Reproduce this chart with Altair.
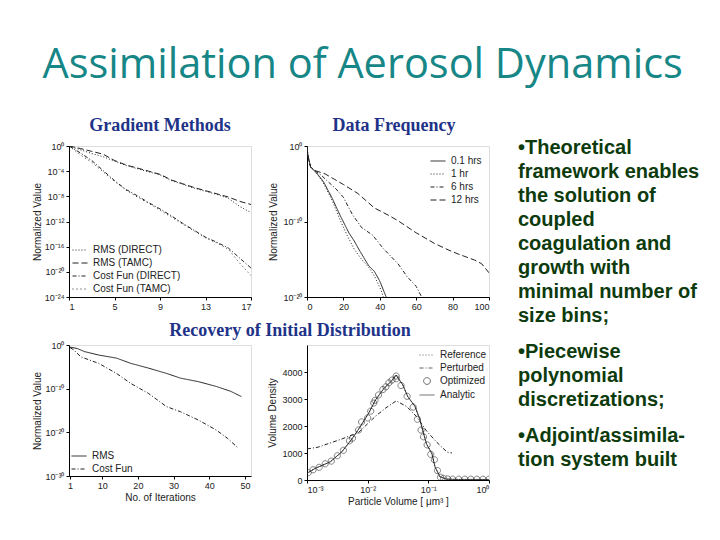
import altair as alt
import pandas as pd

FONT = "Liberation Sans"
BLUE = "#1e3388"
TEAL = "#168686"
GREEN = "#0d3b0d"
INK = "#222222"

# ---------------- Panel 1: Gradient Methods (log10 exponents) ----------------
p1_iter = list(range(1, 18))
p1_labels = ["RMS (DIRECT)", "RMS (TAMC)", "Cost Fun (DIRECT)", "Cost Fun (TAMC)"]
p1_rms_direct = [0, -0.6, -1.2, -1.7, -2.4, -3.1, -3.6, -4.1, -4.6, -5.5, -6.1, -6.7, -7.2, -7.7, -8.3, -9.6, -10.6]
p1_rms_tamc = [0, -0.4, -0.85, -1.3, -2.3, -3.0, -3.5, -4.0, -4.5, -5.4, -6.0, -6.6, -7.1, -7.6, -8.1, -8.8, -9.3]
p1_cost_direct = [0, -1.1, -2.3, -3.9, -5.5, -6.9, -7.9, -9.0, -10.0, -11.1, -12.3, -13.4, -14.5, -15.3, -16.2, -17.8, -19.4]
p1_cost_tamc = [0, -1.4, -2.6, -4.1, -5.6, -7.0, -8.1, -9.1, -10.2, -11.3, -12.4, -13.5, -14.6, -15.4, -16.4, -18.6, -20.6]
p1_ticks_y = [0, -4, -8, -12, -16, -20, -24]
p1_ticks_x = [1, 5, 9, 13, 17]

# ---------------- Panel 2: Data Frequency (log10 exponents) ----------------
p2_labels = ["0.1 hrs", "1 hr", "6 hrs", "12 hrs"]
p2_x_01 = [0, 0.5, 2, 5, 9, 14, 18, 23, 26, 29, 34, 37, 40, 43.5]
p2_e_01 = [0, -1.3, -2.8, -3.5, -4.7, -7.0, -9.1, -11.5, -12.6, -13.9, -15.9, -16.6, -17.9, -20.0]
p2_x_1 = [0, 0.5, 2, 5, 9, 14, 18, 22, 26, 30, 34, 37, 40.5, 42]
p2_e_1 = [0, -1.3, -2.8, -3.5, -4.9, -7.3, -9.7, -11.8, -13.7, -15.0, -16.1, -17.2, -19.0, -20.0]
p2_x_6 = [0, 0.5, 2, 5, 8, 11, 16, 20, 25, 30, 36, 42, 50, 55, 60, 63]
p2_e_6 = [0, -1.3, -2.8, -3.4, -3.9, -4.6, -5.7, -6.8, -9.1, -10.8, -11.8, -13.6, -15.6, -17.3, -18.6, -20.0]
p2_x_12 = [0, 0.5, 2, 5, 10, 15, 20, 28, 37, 45, 50, 60, 70, 78, 83, 92, 96, 100]
p2_e_12 = [0, -1.3, -2.8, -3.3, -3.7, -4.4, -5.1, -6.3, -8.2, -9.2, -9.9, -11.5, -12.9, -13.8, -14.3, -15.1, -15.6, -16.8]
p2_ticks_y = [0, -10, -20]
p2_ticks_x = [0, 20, 40, 60, 80, 100]

# ---------------- Panel 3: Recovery, convergence (log10 exponents) ----------------
p3_labels = ["RMS", "Cost Fun"]
p3_x_rms = [1, 3, 5, 9, 14, 18, 23, 28, 32, 37, 42, 46, 49]
p3_e_rms = [-0.5, -0.8, -1.5, -2.3, -3.0, -4.2, -5.3, -6.5, -7.6, -8.4, -9.5, -10.6, -11.8]
p3_x_cost = [1, 2, 4, 9, 14, 18, 23, 28, 32, 37, 42, 45, 48]
p3_e_cost = [-0.6, -1.1, -2.7, -4.2, -6.5, -8.8, -11.1, -14.1, -15.3, -17.2, -19.5, -21.3, -23.5]
p3_ticks_y = [0, -10, -20, -30]
p3_ticks_x = [1, 10, 20, 30, 40, 50]

# ---------------- Panel 4: Recovered distribution (x as log10 exponent) ----------------
p4_labels = ["Reference", "Perturbed", "Optimized", "Analytic"]
p4_lx_analytic = [-3.0, -2.87, -2.62, -2.43, -2.26, -2.15, -1.98, -1.87, -1.73, -1.62, -1.53, -1.42, -1.34,
                  -1.22, -1.14, -1.09, -1.03, -0.94, -0.89, -0.81, -0.7, -0.5, 0.0]
p4_y_analytic = [250, 425, 669, 1033, 1516, 1880, 2487, 2970, 3396, 3636, 3880, 3516, 3091,
                 2727, 2244, 1818, 1334, 970, 488, 124, 30, 20, 20]
p4_lx_perturbed = [-3.0, -2.82, -2.43, -2.15, -1.87, -1.70, -1.53, -1.36, -1.20, -1.03, -0.86, -0.69, -0.61]
p4_y_perturbed = [1150, 1215, 1516, 1760, 2364, 2670, 2930, 2727, 2364, 1818, 1396, 1033, 1000]
p4_lx_optimized = [-2.98, -2.9, -2.8, -2.7, -2.6, -2.5, -2.4, -2.3, -2.25, -2.15, -2.1, -2.0, -1.95, -1.9,
                   -1.88, -1.82, -1.75, -1.7, -1.65, -1.6, -1.53, -1.53, -1.45, -1.35, -1.25, -1.18, -1.12,
                   -1.08, -1.02, -0.96, -0.9, -0.85, -0.8, -0.75, -0.68, -0.6, -0.5, -0.4, -0.3, -0.2, -0.1, 0.0]
p4_y_optimized = [270, 380, 470, 600, 700, 900, 1100, 1450, 1550, 1850, 2150, 2300, 2550, 2850,
                  2950, 3150, 3350, 3450, 3600, 3700, 3850, 3750, 3500, 3100, 2700, 2250, 1850,
                  1600, 1300, 950, 750, 350, 100, 60, 40, 30, 30, 30, 30, 30, 30, 30]
p4_ticks_x = [-3, -2, -1, 0]
p4_ticks_y = [0, 1000, 2000, 3000, 4000]

# ---------------- Slide text ----------------
slide_title = "Assimilation of Aerosol Dynamics"
sub_titles = ["Gradient Methods", "Data Frequency", "Recovery of Initial Distribution"]
paragraphs = [
    ["\u2022Theoretical", "framework enables", "the solution of", "coupled",
     "coagulation and", "growth with", "minimal number of", "size bins;"],
    ["\u2022Piecewise", "polynomial", "discretizations;"],
    ["\u2022Adjoint/assimila-", "tion system built"],
]

# ---------------- helpers ----------------
SUP = {"0": "\u2070", "1": "\u00b9", "2": "\u00b2", "3": "\u00b3", "4": "\u2074", "5": "\u2075",
       "6": "\u2076", "7": "\u2077", "8": "\u2078", "9": "\u2079", "-": "\u207b"}


def pow10_label():
    s = "'' + round(log(datum.value) / LN10)"
    for k, v in SUP.items():
        s = f"replace({s}, regexp('{k}', 'g'), '{v}')"
    return "'10' + " + s


LBL = pow10_label()
SYM = 225          # legend symbol size (15 px strokes)
CIRCLE = "M0.45,0A0.45,0.45 0 1,1 -0.45,0A0.45,0.45 0 1,1 0.45,0Z"


def ax(**kw):
    base = dict(grid=False, tickSize=3, tickColor="black", domainColor="black",
                labelFont=FONT, labelFontSize=9, labelColor=INK, labelPadding=2,
                titleFont=FONT, titleFontSize=10, titleFontWeight="normal", titleColor=INK)
    base.update(kw)
    return alt.Axis(**base)


def leg(orient, offset, size=10):
    return alt.Legend(orient=orient, title=None, offset=offset, padding=0,
                      labelFont=FONT, labelFontSize=size, labelColor=INK,
                      symbolType="stroke", symbolSize=SYM, symbolStrokeWidth=1,
                      symbolStrokeColor=INK, rowPadding=-1.5, labelOffset=5)


def long_df(xs_list, ys_list, names, exp=True):
    rows = []
    for xs, ys, n in zip(xs_list, ys_list, names):
        for x, y in zip(xs, ys):
            rows.append({"x": x, "v": 10.0 ** y if exp else y, "series": n})
    return pd.DataFrame(rows)


def sub_title(text, dx=0, offset=10, dy=19):
    return alt.TitleParams(text=text, font="Liberation Serif", fontSize=18, fontWeight="bold",
                           color=BLUE, anchor="middle", frame="group", dx=dx, dy=dy,
                           offset=offset, baseline="alphabetic")


# ---------------- Panel 1 ----------------
df1 = long_df([p1_iter] * 4, [p1_rms_direct, p1_rms_tamc, p1_cost_direct, p1_cost_tamc], p1_labels)
p1 = alt.Chart(df1).mark_line(clip=True, strokeWidth=1, color=INK).encode(
    x=alt.X("x:Q", scale=alt.Scale(domain=[1, 17], nice=False, zero=False),
            axis=ax(values=p1_ticks_x, title=None)),
    y=alt.Y("v:Q", scale=alt.Scale(type="log", domain=[1e-24, 1], nice=False),
            axis=ax(values=[10.0 ** k for k in p1_ticks_y], labelExpr=LBL,
                    title="Normalized Value", titlePadding=2)),
    strokeDash=alt.StrokeDash("series:N", scale=alt.Scale(domain=p1_labels,
                              range=[[1, 2], [6, 3], [4, 2, 1, 2], [1, 3]]),
                              legend=leg("bottom-left", 3)),
).properties(width=182, height=151, title=sub_title(sub_titles[0], dy=17))

# ---------------- Panel 2 ----------------
df2 = long_df([p2_x_01, p2_x_1, p2_x_6, p2_x_12], [p2_e_01, p2_e_1, p2_e_6, p2_e_12], p2_labels)
p2 = alt.Chart(df2).mark_line(clip=True, strokeWidth=1, color=INK).encode(
    x=alt.X("x:Q", scale=alt.Scale(domain=[0, 100], nice=False),
            axis=ax(values=p2_ticks_x, title=None)),
    y=alt.Y("v:Q", scale=alt.Scale(type="log", domain=[1e-20, 1], nice=False),
            axis=ax(values=[10.0 ** k for k in p2_ticks_y], labelExpr=LBL,
                    title="Normalized Value", titlePadding=4)),
    strokeDash=alt.StrokeDash("series:N", scale=alt.Scale(domain=p2_labels,
                              range=[[1, 0], [1, 2], [4, 2, 1, 2], [6, 3]]),
                              legend=leg("top-right", 7)),
).properties(width=182, height=151, title=sub_title(sub_titles[1], dx=-4, dy=17))

# ---------------- Panel 3 ----------------
df3 = long_df([p3_x_rms, p3_x_cost], [p3_e_rms, p3_e_cost], p3_labels)
p3 = alt.Chart(df3).mark_line(clip=True, strokeWidth=1, color=INK).encode(
    x=alt.X("x:Q", scale=alt.Scale(domain=[0.7, 51.7], nice=False, zero=False),
            axis=ax(values=p3_ticks_x, title="No. of Iterations", titlePadding=2)),
    y=alt.Y("v:Q", scale=alt.Scale(type="log", domain=[1e-30, 1], nice=False),
            axis=ax(values=[10.0 ** k for k in p3_ticks_y], labelExpr=LBL,
                    title="Normalized Value", titlePadding=2)),
    strokeDash=alt.StrokeDash("series:N", scale=alt.Scale(domain=p3_labels,
                              range=[[1, 0], [4, 2, 1, 2]]),
                              legend=leg("bottom-left", 2)),
).properties(width=182, height=131, title=sub_title(sub_titles[2], dx=130, offset=6))

# ---------------- Panel 4 ----------------
df4l = long_df([p4_lx_analytic, p4_lx_perturbed, p4_lx_analytic],
               [p4_y_analytic, p4_y_perturbed, p4_y_analytic],
               ["Reference", "Perturbed", "Analytic"], exp=False)
df4l["x"] = 10.0 ** df4l["x"]
df4p = pd.DataFrame({"x": [10.0 ** v for v in p4_lx_optimized], "v": p4_y_optimized,
                     "series": "Optimized"})
x4 = alt.X("x:Q", scale=alt.Scale(type="log", domain=[1e-3, 1], nice=False),
           axis=ax(values=[10.0 ** k for k in p4_ticks_x], labelExpr=LBL,
                   title="Particle Volume [ \u03bcm\u00b3 ]", titlePadding=2))
y4 = alt.Y("v:Q", scale=alt.Scale(domain=[0, 5000], nice=False),
           axis=ax(values=p4_ticks_y, format="d", title="Volume Density", titlePadding=4))
leg4 = leg("top-right", 2)
l4 = alt.Chart(df4l).mark_line(clip=True, strokeWidth=1, color=INK).encode(
    x=x4, y=y4,
    strokeDash=alt.StrokeDash("series:N", scale=alt.Scale(domain=p4_labels,
                              range=[[1, 2], [4, 2, 1, 2], [1, 0], [1, 0]]), legend=leg4),
)
pt4 = alt.Chart(df4p).mark_point(clip=True, filled=False, size=190, strokeWidth=0.8, color=INK).encode(
    x=x4, y=y4,
    shape=alt.Shape("series:N", scale=alt.Scale(domain=p4_labels,
                    range=["stroke", "stroke", CIRCLE, "stroke"]), legend=leg4),
)
p4 = alt.layer(l4, pt4).properties(width=182, height=135)

# ---------------- Bullet text ----------------
rows = []
slot = 0.0
for para in paragraphs:
    for line in para:
        rows.append({"line": line, "slot": slot})
        slot += 1
    slot += 0.5
txt_df = pd.DataFrame(rows)
LINE_PX = 24
TXT_H = 151
txt = alt.Chart(txt_df).mark_text(align="left", baseline="middle", font=FONT, fontSize=20,
                                  fontWeight="bold", color=GREEN).encode(
    x=alt.value(-27),
    y=alt.Y("slot:Q", scale=alt.Scale(domain=[-2 / LINE_PX, (TXT_H - 2) / LINE_PX],
                                      reverse=True, nice=False, zero=False), axis=None),
    text="line:N",
).properties(width=150, height=TXT_H, view=alt.ViewBackground(stroke="transparent"))

chart = alt.concat(
    p1, p2, txt, p3, p4, columns=3, spacing={"row": 48, "column": 56}, bounds="flush", align="all"
).resolve_scale(
    strokeDash="independent", shape="independent", x="independent", y="independent"
).resolve_legend(
    strokeDash="independent", shape="independent"
).properties(
    title=alt.TitleParams(text=slide_title, font="Open Sans", fontSize=41.5, fontWeight="normal",
                          color=TEAL, anchor="middle", offset=30, dx=-3),
    padding={"left": 23, "top": 37, "right": 4, "bottom": 4},
).configure_view(stroke="black", strokeWidth=1).configure(background="white")

chart.save("out.html", embed_options={"renderer": "svg", "actions": False})
